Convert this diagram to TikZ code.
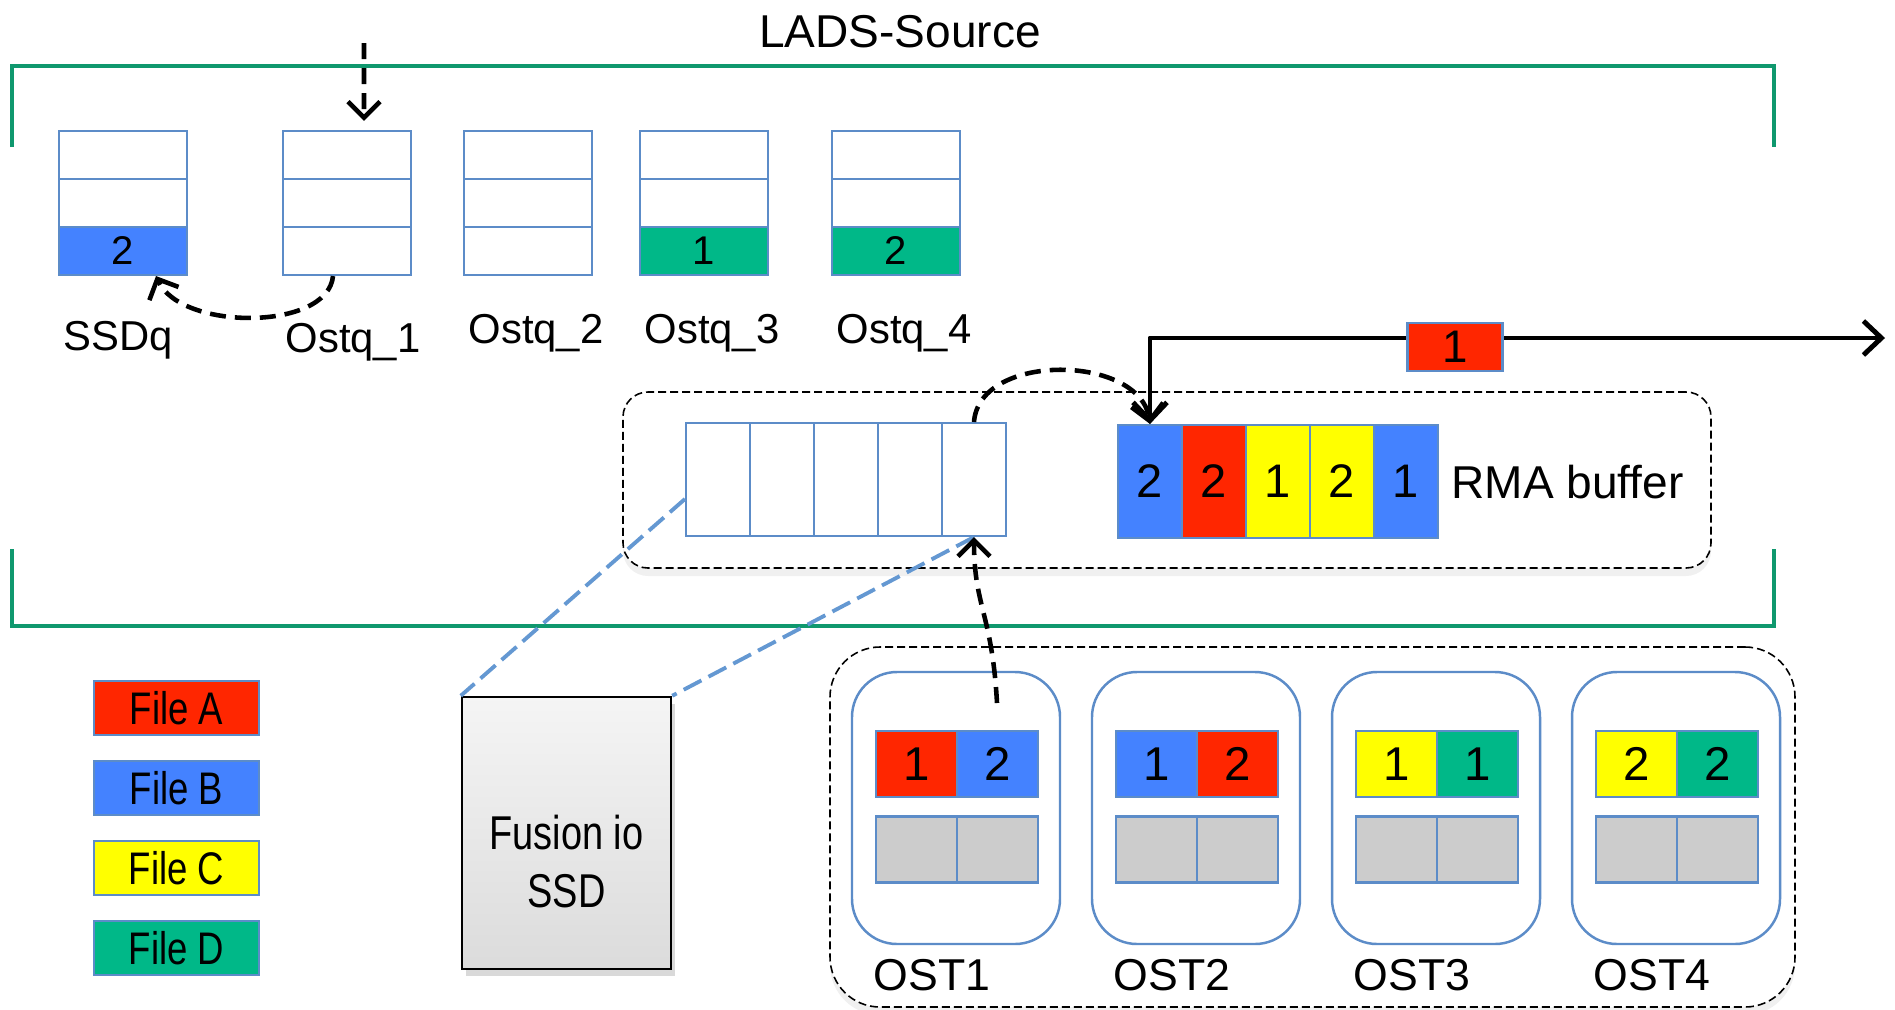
\documentclass[tikz,border=0pt]{standalone}
\usepackage{fontspec}
\setmainfont{Liberation Sans}
\newfontfamily\narrowsans[FakeStretch=0.8]{Liberation Sans}
\usepackage{xcolor}
\usepackage{tikz}
\usetikzlibrary{arrows.meta,shadows}

\definecolor{fileA}{RGB}{255,38,0}
\definecolor{fileB}{RGB}{68,130,255}
\definecolor{fileC}{RGB}{255,255,0}
\definecolor{fileD}{RGB}{0,184,136}
\definecolor{cellblue}{RGB}{92,140,200}
\definecolor{framegreen}{RGB}{15,152,110}
\definecolor{linkblue}{RGB}{100,152,210}
\definecolor{diskgray}{RGB}{204,204,204}

\begin{document}
\begin{tikzpicture}[
  x=0.1mm,
  y=-0.1mm,
  qcell/.style={draw=cellblue, line width=0.6pt, minimum width=12.85mm, minimum height=4.8mm, inner sep=0pt, font=\fontsize{11.4}{13}\selectfont},
  bufcell/.style={draw=cellblue, line width=0.6pt, minimum width=6.4mm, minimum height=11.3mm, inner sep=0pt, font=\fontsize{13.4}{16}\selectfont},
  ostcell/.style={draw=cellblue, line width=0.6pt, minimum width=8.1mm, minimum height=6.6mm, inner sep=0pt, font=\fontsize{13.5}{16}\selectfont},
  ostbox/.style={draw=cellblue, line width=0.7pt, rounded corners=4.5mm, minimum width=20.8mm, minimum height=27.2mm, inner sep=0pt},
  chunk/.style={draw=cellblue, fill=fileA, line width=0.6pt, minimum width=9.5mm, minimum height=4.8mm, inner sep=0pt, font=\fontsize{13}{15}\selectfont},
  filekey/.style={draw=cellblue, line width=0.6pt, minimum width=16.5mm, minimum height=5.4mm, inner sep=0pt, font=\narrowsans\fontsize{13}{15}\selectfont},
  ssdbox/.style={draw=black, line width=0.7pt, top color=gray!8, bottom color=gray!28, minimum width=20.9mm, minimum height=27.2mm, inner sep=0pt, drop shadow={opacity=0.3, shadow xshift=0.4mm, shadow yshift=-0.7mm}},
  ssdtext/.style={align=center, inner sep=0pt, font=\narrowsans\fontsize{13.5}{16.5}\selectfont},
  cluster/.style={draw=black, fill=white, line width=0.45pt, dash pattern=on 0.8mm off 0.4mm, inner sep=0pt, drop shadow={opacity=0.12, shadow xshift=0pt, shadow yshift=-0.8mm}},
  heading/.style={inner sep=0pt, font=\fontsize{13.1}{15}\selectfont},
  tag/.style={inner sep=0pt, font=\fontsize{11.9}{14}\selectfont},
  osttag/.style={inner sep=0pt, font=\fontsize{12.7}{15}\selectfont},
  sourceframe/.style={draw=framegreen, line width=1.4pt},
  dashmove/.style={-{Straight Barb[length=1.6mm, width=3.2mm]}, line width=1.3pt, dash pattern=on 1.6mm off 0.9mm},
  flow/.style={{Straight Barb[length=1.8mm, width=3.4mm]}-{Straight Barb[length=1.8mm, width=3.4mm]}, line width=1.4pt, line join=round},
  ssdlink/.style={draw=linkblue, line width=1.1pt, dash pattern=on 2mm off 0.8mm}
]
  \useasboundingbox (0,0) rectangle (1895,1009);

  \node[cluster, rounded corners=2.5mm, minimum width=108.8mm, minimum height=17.6mm] (rmagroup) at (1167,480) {};
  \node[cluster, rounded corners=5mm, minimum width=96.5mm, minimum height=36mm] (ostgroup) at (1312.5,827) {};

  \draw[sourceframe] (12,147) |- (1774,66) -- (1774,147);
  \draw[sourceframe] (12,549) |- (1774,626) -- (1774,549);
  \node[heading, anchor=base] (lads) at (900,47) {LADS-Source};

  \node[qcell] (q0a) at (123,155) {};
  \node[qcell] (q0b) at (123,203) {};
  \node[qcell, fill=fileB] (q0c) at (123,251) {2};
  \node[qcell] (q1a) at (347,155) {};
  \node[qcell] (q1b) at (347,203) {};
  \node[qcell] (q1c) at (347,251) {};
  \node[qcell] (q2a) at (528,155) {};
  \node[qcell] (q2b) at (528,203) {};
  \node[qcell] (q2c) at (528,251) {};
  \node[qcell] (q3a) at (704,155) {};
  \node[qcell] (q3b) at (704,203) {};
  \node[qcell, fill=fileD] (q3c) at (704,251) {1};
  \node[qcell] (q4a) at (896,155) {};
  \node[qcell] (q4b) at (896,203) {};
  \node[qcell, fill=fileD] (q4c) at (896,251) {2};

  \node[tag, anchor=base] (ssdq) at (118,350) {SSDq};
  \node[tag, anchor=base] (ostq1) at (353,352) {Ostq\_1};
  \node[tag, anchor=base] (ostq2) at (536,343) {Ostq\_2};
  \node[tag, anchor=base] (ostq3) at (712,343) {Ostq\_3};
  \node[tag, anchor=base] (ostq4) at (904,343) {Ostq\_4};

  \node[bufcell] (b1) at (718,479.5) {};
  \node[bufcell] (b2) at (782,479.5) {};
  \node[bufcell] (b3) at (846,479.5) {};
  \node[bufcell] (b4) at (910,479.5) {};
  \node[bufcell] (b5) at (974,479.5) {};

  \node[bufcell, fill=fileB] (r1) at (1150,481.5) {2};
  \node[bufcell, fill=fileA] (r2) at (1214,481.5) {2};
  \node[bufcell, fill=fileC] (r3) at (1278,481.5) {1};
  \node[bufcell, fill=fileC] (r4) at (1342,481.5) {2};
  \node[bufcell, fill=fileB] (r5) at (1406,481.5) {1};
  \node[heading, anchor=base west] (rmabuf) at (1451,498) {RMA buffer};

  \node[filekey, fill=fileA] (keyA) at (176.5,708) {File A};
  \node[filekey, fill=fileB] (keyB) at (176.5,788) {File B};
  \node[filekey, fill=fileC] (keyC) at (176.5,868) {File C};
  \node[filekey, fill=fileD] (keyD) at (176.5,948) {File D};

  \node[ssdbox] (ssd) at (566.5,833) {};
  \node[ssdtext] (ssdname) at ([yshift=-2.9mm]ssd.center) {Fusion io\\SSD};

  \node[ostbox] (ost1) at (956,808) {};
  \node[ostbox] (ost2) at (1196,808) {};
  \node[ostbox] (ost3) at (1436,808) {};
  \node[ostbox] (ost4) at (1676,808) {};

  \node[ostcell, fill=fileA] (o1a) at (916.5,764) {1};
  \node[ostcell, fill=fileB] (o1b) at (997.5,764) {2};
  \node[ostcell, fill=diskgray] (o1c) at (916.5,849.5) {};
  \node[ostcell, fill=diskgray] (o1d) at (997.5,849.5) {};
  \node[ostcell, fill=fileB] (o2a) at (1156.5,764) {1};
  \node[ostcell, fill=fileA] (o2b) at (1237.5,764) {2};
  \node[ostcell, fill=diskgray] (o2c) at (1156.5,849.5) {};
  \node[ostcell, fill=diskgray] (o2d) at (1237.5,849.5) {};
  \node[ostcell, fill=fileC] (o3a) at (1396.5,764) {1};
  \node[ostcell, fill=fileD] (o3b) at (1477.5,764) {1};
  \node[ostcell, fill=diskgray] (o3c) at (1396.5,849.5) {};
  \node[ostcell, fill=diskgray] (o3d) at (1477.5,849.5) {};
  \node[ostcell, fill=fileC] (o4a) at (1636.5,764) {2};
  \node[ostcell, fill=fileD] (o4b) at (1717.5,764) {2};
  \node[ostcell, fill=diskgray] (o4c) at (1636.5,849.5) {};
  \node[ostcell, fill=diskgray] (o4d) at (1717.5,849.5) {};

  \node[osttag, anchor=base west] (ost1name) at (873,990) {OST1};
  \node[osttag, anchor=base west] (ost2name) at (1113,990) {OST2};
  \node[osttag, anchor=base west] (ost3name) at (1353,990) {OST3};
  \node[osttag, anchor=base west] (ost4name) at (1593,990) {OST4};

  \draw[ssdlink] ([yshift=-1.95mm]b1.west) -- (ssd.north west);
  \draw[ssdlink] (b5.south) -- (ssd.north east);

  \coordinate (inflow) at (364,43);
  \draw[dashmove, shorten >=0.9mm] (inflow) -- ([xshift=1.7mm]q1a.north);
  \draw[dashmove] ([xshift=-1.4mm]q1c.south) .. controls +(-5,55) and +(25,55) .. ([xshift=3.3mm]q0c.south);
  \draw[dashmove] (b5.north) .. controls +(5,-70) and +(-10,-70) .. (r1.north);
  \coordinate (ostout) at (997,703);
  \draw[dashmove] (ostout) .. controls +(-5,-90) and +(0,70) .. (b5.south);

  \coordinate (outflow) at (1885,338);
  \draw[flow] (r1.north) |- (outflow);
  \node[chunk] (sent) at (1455,347) {1};
\end{tikzpicture}
\end{document}
